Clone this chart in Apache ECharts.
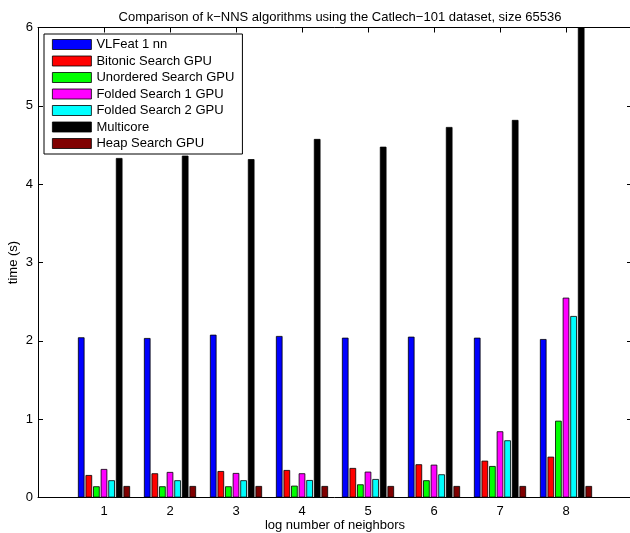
<!DOCTYPE html>
<html>
<head>
<meta charset="utf-8">
<script src="https://cdn.jsdelivr.net/npm/echarts@6/dist/echarts.min.js"></script>
<style>
  html, body { margin: 0; padding: 0; background: #fff; }
  #chart { width: 630px; height: 533px; }
</style>
</head>
<body>
<div id="chart"></div>
<script>
// Neighbour counts (log scale) on the x axis
const categories = [1, 2, 3, 4, 5, 6, 7, 8];

// Run times in seconds for each algorithm
const vlfeat1nn   = [2.045, 2.036, 2.078, 2.062, 2.040, 2.053, 2.040, 2.023];
const bitonicGpu  = [0.287, 0.309, 0.338, 0.351, 0.377, 0.424, 0.470, 0.521];
const unorderedGpu = [0.143, 0.143, 0.143, 0.151, 0.168, 0.220, 0.402, 0.980];
const folded1Gpu  = [0.364, 0.326, 0.313, 0.309, 0.330, 0.419, 0.845, 2.551];
const folded2Gpu  = [0.220, 0.220, 0.220, 0.223, 0.236, 0.296, 0.730, 2.317];
const multicore   = [4.334, 4.364, 4.320, 4.577, 4.478, 4.730, 4.820, 6.400];
const heapGpu     = [0.147, 0.147, 0.147, 0.147, 0.147, 0.147, 0.147, 0.147];

const yTicks = [0, 1, 2, 3, 4, 5, 6];

const seriesDefs = [
  { name: 'VLFeat 1 nn', data: vlfeat1nn, color: '#0000ff' },
  { name: 'Bitonic Search GPU', data: bitonicGpu, color: '#ff0000' },
  { name: 'Unordered Search GPU', data: unorderedGpu, color: '#00ff00' },
  { name: 'Folded Search 1 GPU', data: folded1Gpu, color: '#ff00ff' },
  { name: 'Folded Search 2 GPU', data: folded2Gpu, color: '#00ffff' },
  { name: 'Multicore', data: multicore, color: '#000000' },
  { name: 'Heap Search GPU', data: heapGpu, color: '#800000' }
];

const FONT = '"Liberation Sans", Arial, Helvetica, sans-serif';

const chart = echarts.init(document.getElementById('chart'), null, { renderer: 'canvas' });

const series = seriesDefs.map(d => ({
  name: d.name,
  type: 'bar',
  xAxisIndex: 0,
  yAxisIndex: 0,
  clip: true,
  barWidth: 6.6,
  barGap: '15%',
  itemStyle: { color: d.color, borderColor: '#000', borderWidth: 0.8 },
  emphasis: { disabled: true },
  data: categories.map((c, i) => [c, d.data[i]])
}));

// Box-style axes: ticks point into the plot on all four sides
const tickStyle = () => ({ show: true, inside: true, length: 5, lineStyle: { color: '#000', width: 1 } });
const lineStyle = () => ({ show: true, onZero: false, lineStyle: { color: '#000', width: 1 } });

chart.setOption({
  animation: false,
  backgroundColor: '#fff',
  title: {
    text: 'Comparison of k\u2212NNS algorithms using the Catlech\u2212101 dataset, size 65536',
    left: 335,
    textAlign: 'center',
    top: 6,
    textStyle: { fontFamily: FONT, fontSize: 13, fontWeight: 'normal', color: '#000' }
  },
  legend: {
    orient: 'vertical',
    left: 44,
    top: 34,
    padding: [4, 8, 4, 8],
    itemWidth: 39,
    itemHeight: 10,
    itemGap: 3.5,
    backgroundColor: '#fff',
    borderColor: '#000',
    borderWidth: 1,
    icon: 'rect',
    selectedMode: false,
    itemStyle: { borderColor: '#000', borderWidth: 0.8 },
    textStyle: { fontFamily: FONT, fontSize: 13, color: '#000', padding: [0, 0, 0, 0] },
    data: seriesDefs.map(d => d.name)
  },
  grid: { left: 38, top: 27.5, width: 594, height: 470, show: false, containLabel: false, outerBoundsMode: 'none' },
  xAxis: [
    {
      type: 'value', position: 'bottom', min: 0, max: 9, interval: 1,
      name: 'log number of neighbors', nameLocation: 'middle', nameGap: 21, nameMoveOverlap: false,
      nameTextStyle: { fontFamily: FONT, fontSize: 13, color: '#000' },
      axisLine: lineStyle(), axisTick: tickStyle(), splitLine: { show: false },
      axisLabel: {
        fontFamily: FONT, fontSize: 13, color: '#000', margin: 7,
        formatter: v => categories.indexOf(v) >= 0 ? String(v) : ''
      }
    },
    {
      type: 'value', position: 'top', min: 0, max: 9, interval: 1,
      axisLine: lineStyle(), axisTick: tickStyle(), splitLine: { show: false },
      axisLabel: { show: false }
    }
  ],
  yAxis: [
    {
      type: 'value', position: 'left', min: yTicks[0], max: yTicks[yTicks.length - 1], interval: 1,
      name: 'time (s)', nameLocation: 'middle', nameGap: 18, nameMoveOverlap: false,
      nameTextStyle: { fontFamily: FONT, fontSize: 13, color: '#000' },
      axisLine: lineStyle(), axisTick: tickStyle(), splitLine: { show: false },
      axisLabel: { fontFamily: FONT, fontSize: 13, color: '#000', margin: 5 }
    },
    {
      type: 'value', position: 'right', min: yTicks[0], max: yTicks[yTicks.length - 1], interval: 1,
      axisLine: lineStyle(), axisTick: tickStyle(), splitLine: { show: false },
      axisLabel: { show: false }
    }
  ],
  series: series
});
</script>
</body>
</html>
